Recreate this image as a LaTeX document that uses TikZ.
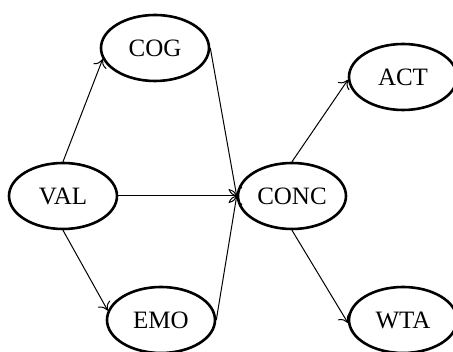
\documentclass[tikz,border=0pt]{standalone}
\usepackage{fontspec}
\setmainfont{Liberation Serif}
\usetikzlibrary{shapes.geometric,arrows.meta}
\begin{document}
\begin{tikzpicture}[x=1pt,y=1pt,
  state/.style={ellipse,draw,line width=2.6pt,minimum width=108pt,minimum height=66pt,inner sep=0pt,font=\fontsize{25}{29}\selectfont},
  link/.style={line width=1pt,-{To[length=8pt,width=14pt]}}]
\useasboundingbox (0,0) rectangle (453,352);
\node[state] (COG) at (155,304) {COG};
\node[state] (ACT) at (403,275) {ACT};
\node[state] (VAL) at (63,156) {VAL};
\node[state] (CONC) at (292,156) {CONC};
\node[state] (EMO) at (161,32) {EMO};
\node[state] (WTA) at (403,32) {WTA};
\draw[link] (VAL.north) -- (COG.192);
\draw[link] (VAL.south) -- (EMO.170);
\draw[link] (VAL.east) -- (CONC.west);
\draw[link] (COG.east) -- (CONC.west);
\draw[link] (EMO.east) -- (CONC.west);
\draw[link] (CONC.north) -- (ACT.183);
\draw[link] (CONC.south) -- (WTA.183);
\end{tikzpicture}
\end{document}
